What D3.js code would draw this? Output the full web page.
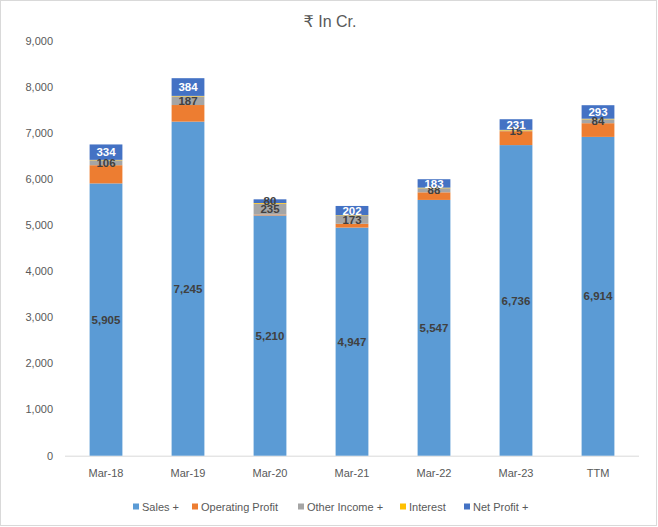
<!DOCTYPE html>
<html><head><meta charset="utf-8">
<script src="https://cdn.jsdelivr.net/npm/d3@7"></script>
<style>
html,body{margin:0;padding:0;background:#fff;}
svg{display:block;font-family:"Liberation Sans",Arial,"DejaVu Sans",sans-serif;}
</style></head>
<body>
<svg id="chart" width="658" height="527"></svg>
<script>
const categories = ["Mar-18","Mar-19","Mar-20","Mar-21","Mar-22","Mar-23","TTM"];
const sales = [5905,7245,5210,4947,5547,6736,6914];
const operatingProfit = [395,360,20,82,165,302,297];
const otherIncome = [106,187,235,173,88,15,84];
const interest = [10,11,15,12,13,13,13];
const netProfit = [334,384,80,202,183,231,293];
const seriesNames = ["Sales +","Operating Profit","Other Income +","Interest","Net Profit +"];
const seriesColors = ["#5B9BD5","#ED7D31","#A5A5A5","#FFC000","#4472C4"];
const yTicks = [0,1000,2000,3000,4000,5000,6000,7000,8000,9000];
const titleText = "₹ In Cr.";

const seriesValues = [sales, operatingProfit, otherIncome, interest, netProfit];
const labelled = [true,false,true,false,true];
const keys = seriesNames;
const table = categories.map((c,i)=>{
  const o = {cat:c};
  keys.forEach((k,j)=>o[k]=seriesValues[j][i]);
  return o;
});

const svg = d3.select("#chart");
svg.append("rect").attr("x",0.5).attr("y",0.5).attr("width",656).attr("height",525)
  .attr("fill","#fff").attr("stroke","#d9d9d9");

const x = d3.scaleBand().domain(categories).range([65,639]).paddingInner(0.6).paddingOuter(0.3);
const y = d3.scaleLinear().domain([0,9000]).range([455.7,40.7]);

svg.append("text").attr("x",330).attr("y",27).attr("text-anchor","middle")
  .attr("font-size",16).attr("fill","#595959").text(titleText);

// y tick labels
svg.append("g").selectAll("text").data(yTicks).join("text")
  .attr("x",53).attr("y",d=>y(d)).attr("dy","0.35em").attr("text-anchor","end")
  .attr("font-size",11).attr("fill","#595959").text(d=>d3.format(",")(d));

// x axis
const xAxis = svg.append("g").attr("transform",`translate(0,${y(0)})`)
  .call(d3.axisBottom(x).tickSize(0).tickPadding(14));
xAxis.select(".domain").attr("stroke","#d9d9d9").attr("d","M65,0.5H639");
xAxis.selectAll("text").attr("font-size",11).attr("fill","#595959")
  .attr("font-family","'Liberation Sans',Arial,sans-serif");

const stack = d3.stack().keys(keys)(table);
const g = svg.append("g");
stack.forEach((layer,j)=>{
  g.append("g").attr("fill",seriesColors[j]).selectAll("rect").data(layer).join("rect")
    .attr("x",d=>x(d.data.cat)).attr("width",x.bandwidth())
    .attr("y",d=>y(d[1])).attr("height",d=>y(d[0])-y(d[1]));
});
stack.forEach((layer,j)=>{
  if(!labelled[j]) return;
  g.append("g").selectAll("text").data(layer).join("text")
    .attr("x",d=>x(d.data.cat)+x.bandwidth()/2)
    .attr("y",d=>(y(d[0])+y(d[1]))/2).attr("dy","0.36em")
    .attr("text-anchor","middle").attr("font-size",11.5).attr("font-weight","bold")
    .attr("fill",d=>(j===4 && (y(d[0])-y(d[1]))>=6)?"#ffffff":"#404040")
    .text(d=>d3.format(",")(d[1]-d[0]));
});

// legend
const legX = [133,192,298,400,464];
const leg = svg.append("g");
seriesNames.forEach((n,j)=>{
  leg.append("rect").attr("x",legX[j]).attr("y",503.5).attr("width",6).attr("height",6).attr("fill",seriesColors[j]);
  leg.append("text").attr("x",legX[j]+9).attr("y",510.5).attr("font-size",11).attr("fill","#595959").text(n);
});
</script>
</body></html>
